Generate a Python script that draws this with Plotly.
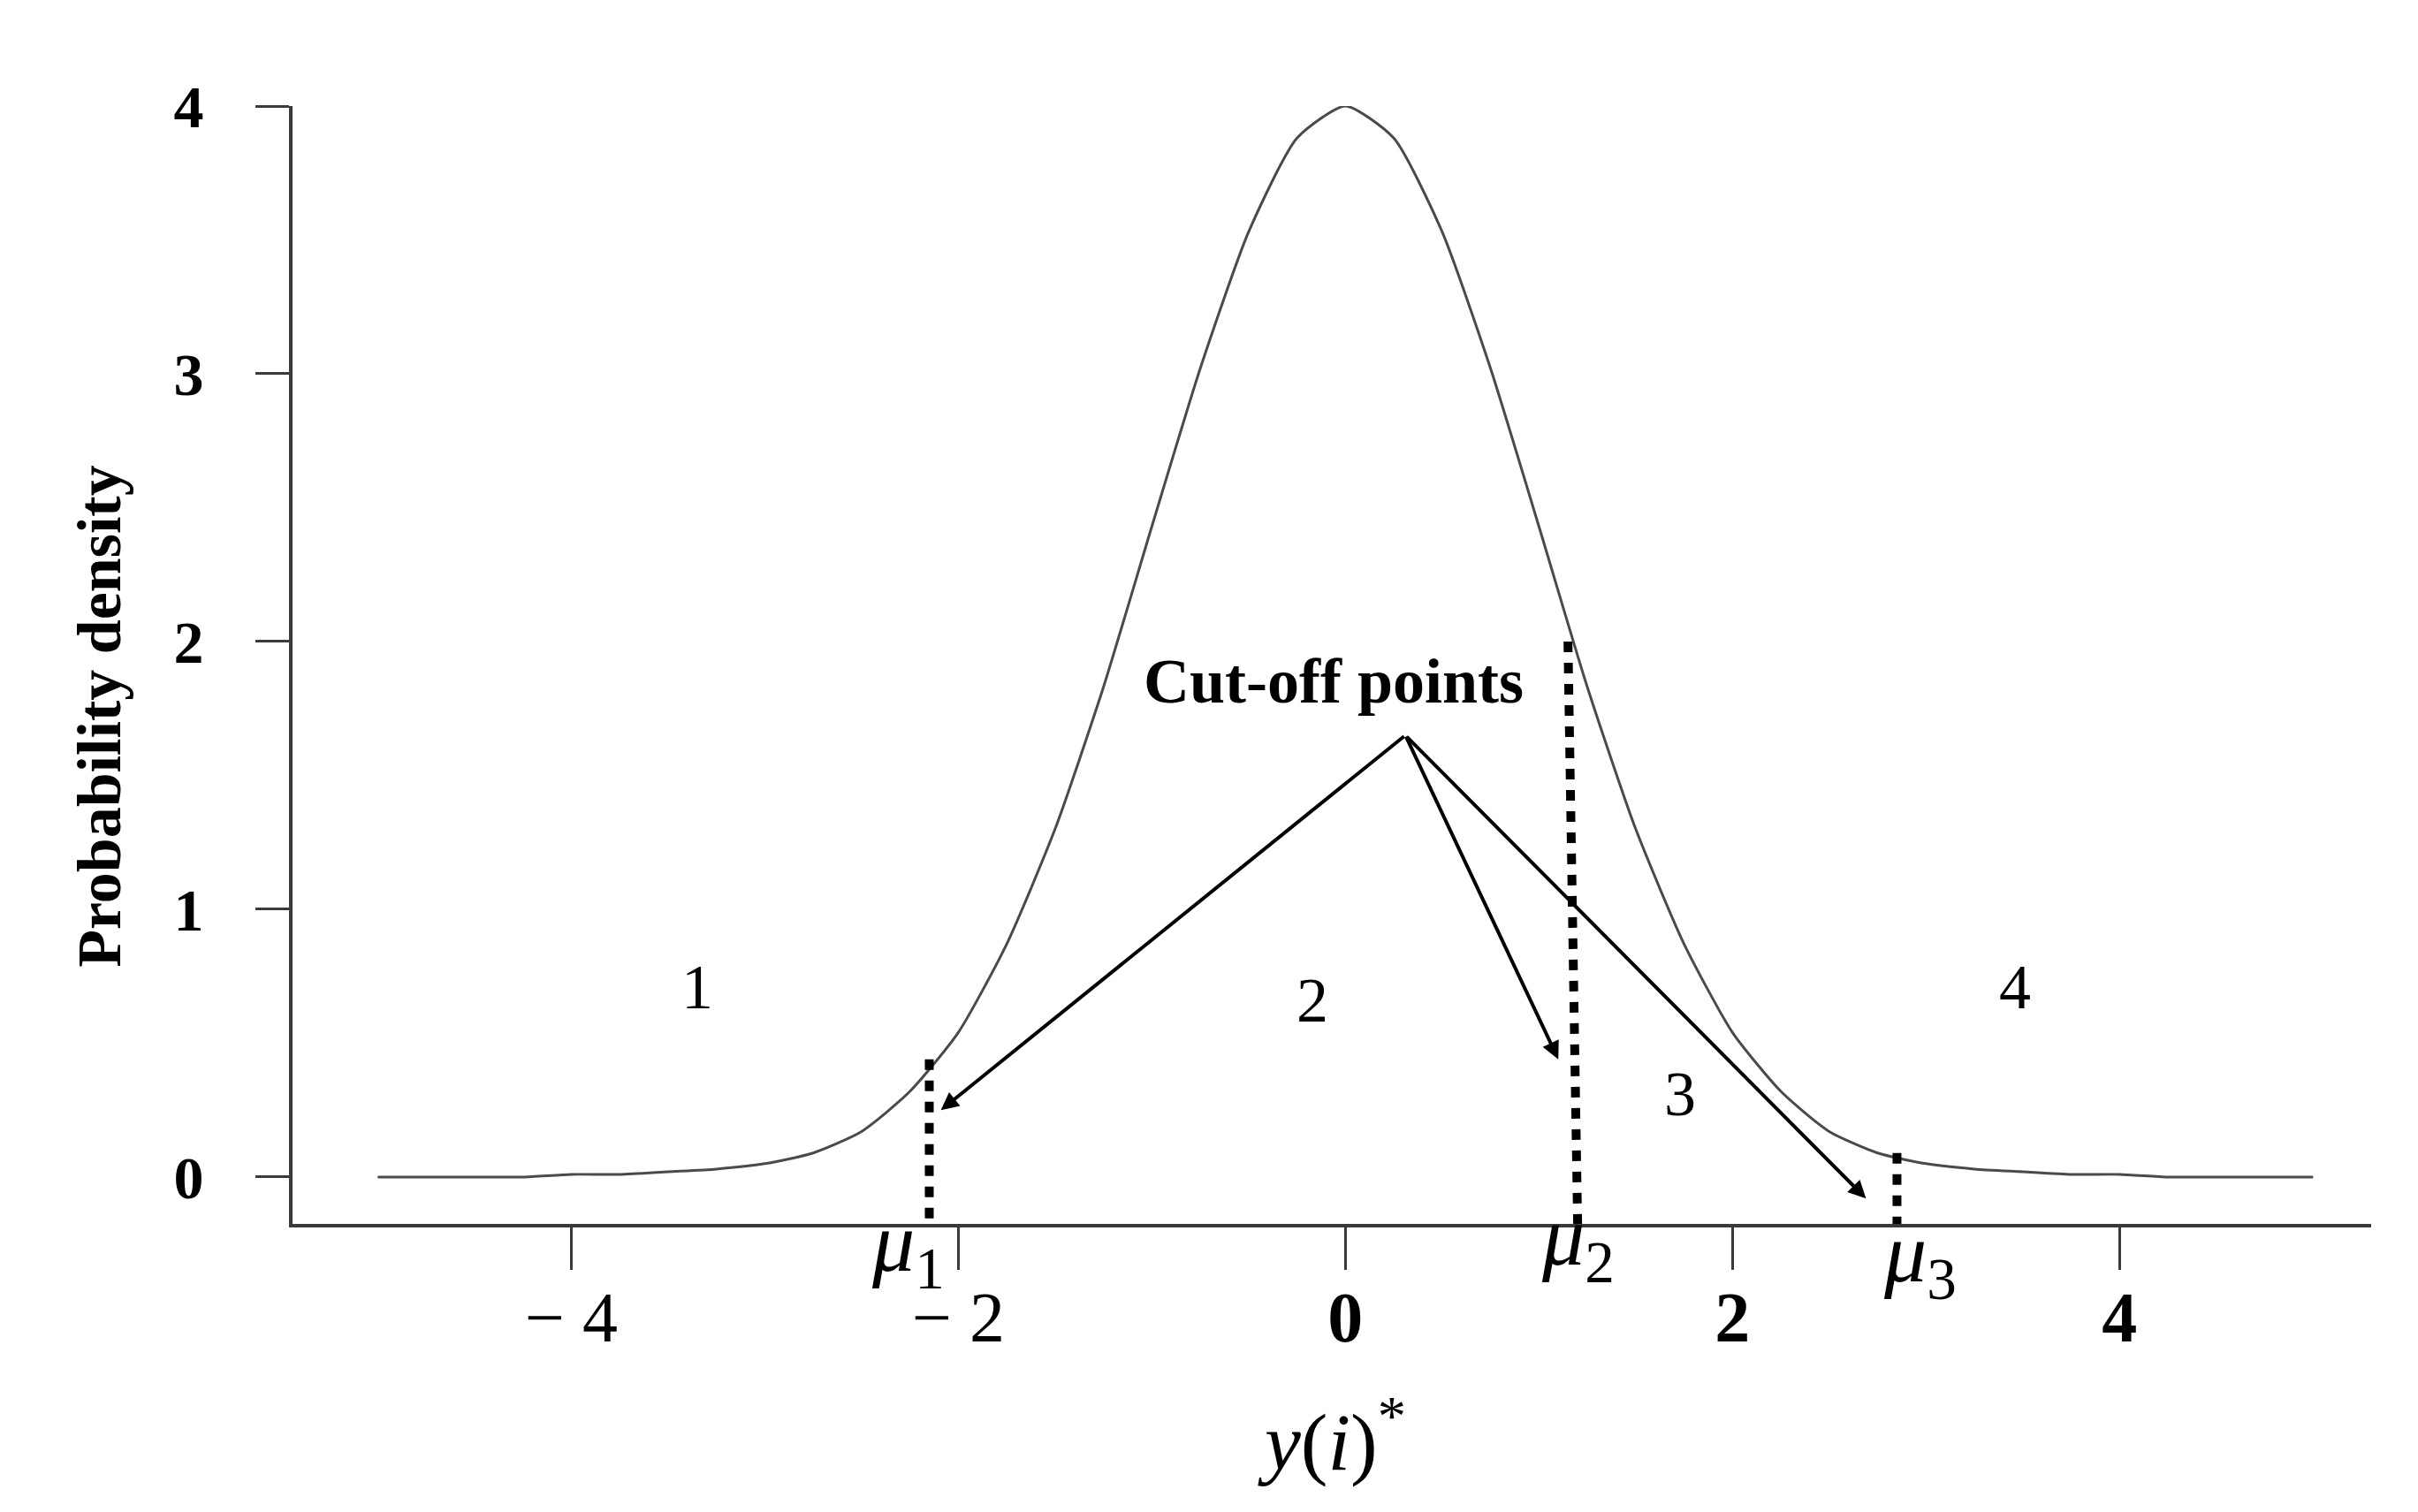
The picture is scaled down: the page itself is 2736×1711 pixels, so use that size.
import plotly.graph_objects as go

# ---- data ----
curve_x = [-5.0, -4.75, -4.5, -4.25, -4.0, -3.75, -3.5, -3.25, -3.0, -2.75, -2.5, -2.25, -2.0,
           -1.75, -1.5, -1.25, -1.0, -0.75, -0.5, -0.25, 0.0, 0.25, 0.5, 0.75, 1.0, 1.25,
           1.5, 1.75, 2.0, 2.25, 2.5, 2.75, 3.0, 3.25, 3.5, 3.75, 4.0, 4.25, 4.5, 4.75, 5.0]
curve_y = [0.00, 0.00, 0.00, 0.00, 0.01, 0.01, 0.02, 0.03, 0.05, 0.09, 0.17, 0.32, 0.54,
           0.87, 1.30, 1.83, 2.43, 3.02, 3.53, 3.88, 4.00, 3.88, 3.53, 3.02, 2.43, 1.83,
           1.30, 0.87, 0.54, 0.32, 0.17, 0.09, 0.05, 0.03, 0.02, 0.01, 0.01, 0.00, 0.00, 0.00, 0.00]

cutoff_names = ["μ1", "μ2", "μ3"]
cutoff_x_top = [-2.15, 1.15, 2.85]
cutoff_x_bottom = [-2.15, 1.20, 2.85]
cutoff_y_top = [0.44, 2.00, 0.09]

arrow_origin = (0.31, 1.65)
arrow_tips_x = [-2.09, 1.10, 2.69]
arrow_tips_y = [0.25, 0.44, -0.08]

region_labels = ["1", "2", "3", "4"]
region_x = [-3.35, -0.17, 1.73, 3.46]
region_y = [0.71, 0.66, 0.31, 0.71]

x_tickvals = [-4, -2, 0, 2, 4]
x_ticktext = ["− 4", "− 2", "<b>0</b>", "<b>2</b>", "<b>4</b>"]
y_tickvals = [0, 1, 2, 3, 4]
y_ticktext = ["0", "1", "2", "3", "4"]

mu_label_x = [-2.26, 1.20, 2.97]
mu_label_y = [-0.022, -0.016, -0.031]   # paper units below the x axis

SERIF = "Liberation Serif, Times New Roman, serif"

fig = go.Figure()

fig.add_trace(go.Scatter(x=curve_x, y=curve_y, mode="lines",
                         line=dict(color="#4a4a4a", width=3, shape="spline", smoothing=0.6),
                         showlegend=False, hoverinfo="skip"))

for xt, xb, yt in zip(cutoff_x_top, cutoff_x_bottom, cutoff_y_top):
    fig.add_trace(go.Scatter(x=[xt, xb], y=[yt, -0.175], mode="lines",
                             line=dict(color="black", width=10, dash="12px,12px"),
                             showlegend=False, hoverinfo="skip", cliponaxis=False))

annotations = []
for tx, ty in zip(arrow_tips_x, arrow_tips_y):
    annotations.append(dict(x=tx, y=ty, ax=arrow_origin[0], ay=arrow_origin[1],
                            xref="x", yref="y", axref="x", ayref="y",
                            text="", showarrow=True, arrowhead=2, arrowsize=1.0,
                            arrowwidth=4, arrowcolor="black"))

annotations.append(dict(x=-0.06, y=1.85, xref="x", yref="y", text="<b>Cut-off points</b>",
                        showarrow=False, font=dict(family=SERIF, size=72, color="black")))

for lab, lx, ly in zip(region_labels, region_x, region_y):
    annotations.append(dict(x=lx, y=ly, xref="x", yref="y", text=lab, showarrow=False,
                            font=dict(family=SERIF, size=72, color="black")))

for name, mx, my in zip(cutoff_names, mu_label_x, mu_label_y):
    annotations.append(dict(x=mx, y=my, xref="x", yref="paper", yanchor="middle",
                            text="<i>μ</i><sub>" + name[1:] + "</sub>", showarrow=False,
                            font=dict(family=SERIF, size=96, color="black")))

annotations.append(dict(x=-0.07, y=-0.19, xref="x", yref="paper", yanchor="middle",
                        text="<i>y</i>(<i>i</i>)<sup>*</sup>", showarrow=False,
                        font=dict(family=SERIF, size=92, color="black")))

annotations.append(dict(x=0, y=1.72, xref="paper", yref="y", xshift=-218,
                        xanchor="center", yanchor="middle",
                        text="<b>Probability density</b>", textangle=-90, showarrow=False,
                        font=dict(family=SERIF, size=70, color="black")))

fig.update_layout(
    width=2736, height=1711,
    paper_bgcolor="white", plot_bgcolor="white",
    margin=dict(l=323, r=61, t=112, b=334),
    showlegend=False,
    annotations=annotations,
    xaxis=dict(range=[-5.44, 5.30], showgrid=False, zeroline=False,
               showline=True, linecolor="#3a3a3a", linewidth=4,
               ticks="outside", ticklen=48, tickwidth=3, tickcolor="#3a3a3a",
               tickvals=x_tickvals, ticktext=x_ticktext, ticklabelstandoff=-15,
               tickfont=dict(family=SERIF, size=80, color="black")),
    yaxis=dict(range=[-0.175, 4.0], showgrid=False, zeroline=False,
               showline=True, linecolor="#3a3a3a", linewidth=4,
               ticks="outside", ticklen=38, tickwidth=3, tickcolor="#3a3a3a",
               tickvals=y_tickvals, ticktext=y_ticktext, ticklabelstandoff=45,
               tickfont=dict(family=SERIF, size=68, color="black", weight="bold")),
)

fig.write_html("out.html")
